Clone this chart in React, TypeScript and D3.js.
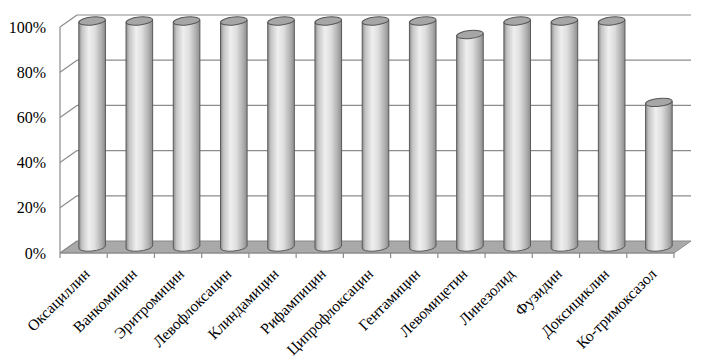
import React from 'react'
import * as d3 from 'd3'

const categories = [
  'Оксациллин', 'Ванкомицин', 'Эритромицин', 'Левофлоксацин', 'Клиндамицин',
  'Рифампицин', 'Ципрофлоксацин', 'Гентамицин', 'Левомицетин', 'Линезолид',
  'Фузидин', 'Доксициклин', 'Ко-тримоксазол',
]
const values = [100, 100, 100, 100, 100, 100, 100, 100, 94, 100, 100, 100, 64]
const yTicks = [0, 20, 40, 60, 80, 100]

const width = 706
const height = 361
const depthX = 17
const depthY = -12

function App() {
  const x = d3.scaleBand<string>().domain(categories).range([60, 674])
  const y = d3.scaleLinear().domain([0, 100]).range([253, 27])
  const bw = x.bandwidth()
  const rx = 13.3
  const ry = 4

  const floor = [
    [x.range()[0], y(0)], [x.range()[1], y(0)],
    [x.range()[1] + depthX, y(0) + depthY], [x.range()[0] + depthX, y(0) + depthY],
  ]

  return (
    <svg width={width} height={height} style={{ position: 'absolute', left: 0, top: 0 }}
      fontFamily="'Liberation Serif', 'Times New Roman', serif">
      <defs>
        <linearGradient id="cyl" x1="0" x2="1" y1="0" y2="0">
          <stop offset="0" stopColor="#8a8a8a" />
          <stop offset="0.12" stopColor="#c4c4c4" />
          <stop offset="0.38" stopColor="#efefef" />
          <stop offset="0.6" stopColor="#dedede" />
          <stop offset="0.85" stopColor="#b0b0b0" />
          <stop offset="1" stopColor="#8c8c8c" />
        </linearGradient>
      </defs>
      {/* floor */}
      <polygon points={floor.map(p => p.join(',')).join(' ')} fill="#a9a9a9" stroke="#8a8a8a" strokeWidth={1} />
      {/* back wall gridlines + side wall diagonals */}
      {yTicks.map(t => (
        <g key={t} stroke="#8c8c8c" strokeWidth={1.2} fill="none">
          {t > 0 && <line x1={x.range()[0] + depthX} x2={x.range()[1] + depthX} y1={y(t) + depthY} y2={y(t) + depthY} />}
          <line x1={x.range()[0]} x2={x.range()[0] + depthX} y1={y(t)} y2={y(t) + depthY} />
        </g>
      ))}
      {/* front value axis */}
      <line x1={60} x2={60} y1={y(0)} y2={y(100)} stroke="#8c8c8c" strokeWidth={1.2} />
      {yTicks.map(t => (
        <text key={t} x={46} y={y(t)} dy="0.35em" textAnchor="end" fontSize={16} fill="#000">{t}%</text>
      ))}
      {/* category axis ticks */}
      <line x1={x.range()[0]} x2={x.range()[1]} y1={y(0)} y2={y(0)} stroke="#8c8c8c" strokeWidth={1.2} />
      {[...categories.map(c => x(c)!), x.range()[1]].map((px, i) => (
        <line key={i} x1={px} x2={px} y1={y(0)} y2={y(0) + 5} stroke="#8c8c8c" strokeWidth={1.2} />
      ))}
      {/* cylinders */}
      {categories.map((c, i) => {
        const cx = x(c)! + bw / 2 + depthX / 2
        const yb = y(0) + depthY / 2
        const yt = y(values[i]) + depthY / 2
        const body = `M${cx - rx},${yt + 1} L${cx - rx},${yb + 1} A${rx},${ry} -6 0 0 ${cx + rx},${yb - 1} L${cx + rx},${yt - 1} Z`
        return (
          <g key={c}>
            <path d={body} fill="url(#cyl)" stroke="#5a5a5a" strokeWidth={1} />
            <ellipse cx={cx} cy={yt} rx={rx} ry={ry} transform={`rotate(-6 ${cx} ${yt})`}
              fill="#a6a6a6" stroke="#555" strokeWidth={1} />
          </g>
        )
      })}
      {/* category labels */}
      {categories.map(c => {
        const px = x(c)! + bw / 2 + 7
        const py = y(0) + 22
        return (
          <text key={c} x={px} y={py} textAnchor="end" fontSize={15.5} fill="#000"
            transform={`rotate(-45 ${px} ${py})`}>{c}</text>
        )
      })}
    </svg>
  )
}

export default App
